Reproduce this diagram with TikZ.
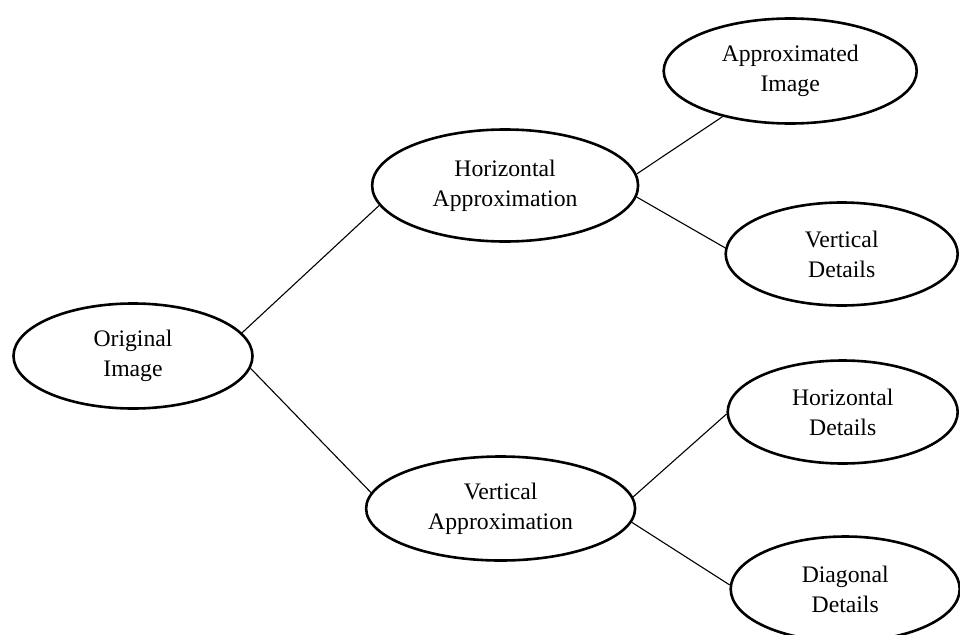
\documentclass[tikz,border=0pt]{standalone}
\usepackage{fontspec}
\setmainfont{Liberation Serif}
\usepackage{tikz}
\usetikzlibrary{shapes,positioning}
\tikzstyle{partbox} = [ellipse, draw=black, line width=2.6pt, fill=white, inner sep=0pt, align=center, font=\fontsize{23.7}{30}\selectfont]
\tikzstyle{link} = [line width=1.1pt, color=black]

\begin{document}
\begin{tikzpicture}[x=1pt, y=1pt, node distance=117pt]
\useasboundingbox (0,0) rectangle (960,-634);

% Input image
\node[partbox, minimum width=239pt, minimum height=105pt] (orig) at (133,-356) {Original\\Image};

% First split
\node[partbox, minimum width=266pt, minimum height=112pt, right=of orig, yshift=170.5pt] (hap) {Horizontal\\Approximation};
\node[partbox, minimum width=269pt, minimum height=104pt, right=111pt of orig, yshift=-152.5pt] (vap) {Vertical\\Approximation};

% Second split
\node[partbox, minimum width=253pt, minimum height=105pt, right=23pt of hap, yshift=114.5pt] (aimg) {Approximated\\Image};
\node[partbox, minimum width=232pt, minimum height=103pt, right=85pt of hap, yshift=-68.5pt] (vdet) {Vertical\\Details};
\node[partbox, minimum width=230pt, minimum height=103pt, right=90pt of vap, yshift=96.5pt] (hdet) {Horizontal\\Details};
\node[partbox, minimum width=229pt, minimum height=105pt, right=93pt of vap, yshift=-80.5pt] (ddet) {Diagonal\\Details};

% Links
\draw[link] (orig.12) -- (hap.189);
\draw[link] (orig.-6) -- (vap.173);
\draw[link] (hap.5) -- (aimg.214);
\draw[link] (hap.-5) -- (vdet.177);
\draw[link] (vap.5) -- (hdet.181);
\draw[link] (vap.-6) -- (ddet.178);

\end{tikzpicture}
\end{document}
